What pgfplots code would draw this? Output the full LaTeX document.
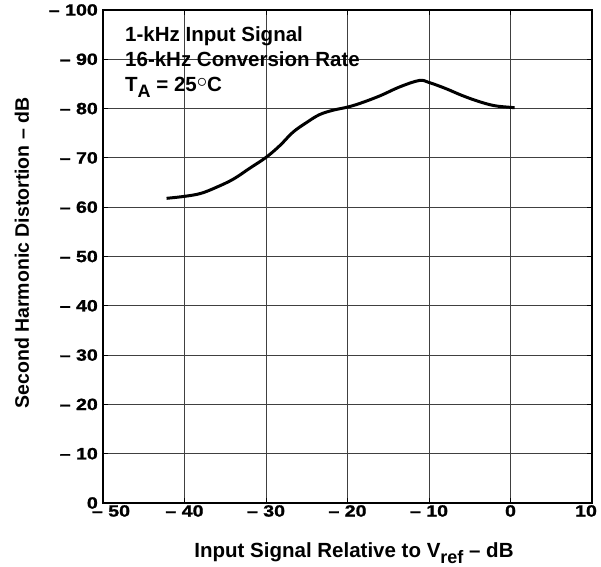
\documentclass[border=0pt]{standalone}
\usepackage{pgfplots}
\pgfplotsset{compat=1.18}
\usepackage{fontspec}
\setmainfont{Liberation Sans}
\newfontfamily\tickfont{Liberation Sans Bold}[FakeStretch=1.2, FakeBold=1.2]
\newcommand{\tickfnt}{\tickfont\fontsize{16.3bp}{16bp}\selectfont}
\pgfplotsset{
  layers/mine/.define layer set={axis background,axis grid,boxlayer,axis ticks,main,axis lines,axis tick labels,axis descriptions,axis foreground}{},
}
\begin{document}
\begin{tikzpicture}
\begin{axis}[
  name=ax,
  set layers=mine,
  scale only axis,
  width=489bp, height=493bp,
  xmin=-50, xmax=10, ymin=0, ymax=100,
  xtick={-50,-40,-30,-20,-10,0,10},
  xticklabels={\hspace*{16bp}– 50,– 40,– 30,– 20,– 10,0,10\hspace*{12bp}},
  ytick={0,10,20,30,40,50,60,70,80,90,100},
  yticklabels={0,– 10,– 20,– 30,– 40,– 50,– 60,– 70,– 80,– 90,– 100},
  grid=major,
  major grid style={black!75, line width=0.8bp},
  axis line style={black, line width=2bp},
  tick align=inside,
  major tick length=5bp,
  tick style={black, line width=1bp},
  every tick label/.append style={font=\tickfnt, inner sep=0pt},
  xticklabel style={anchor=north, yshift=-2bp, font=\tickfnt},
  yticklabel style={anchor=east, xshift=-5bp, font=\tickfnt},
]
\begin{pgfonlayer}{boxlayer}
\fill[white] (axis cs:-50,100) rectangle (axis cs:-13.3,82.1);
\end{pgfonlayer}
\addplot[black, line width=3bp, smooth, tension=0.6] coordinates {
(-42.2,61.8) (-40,62.2) (-38,62.8) (-36,64.1) (-34,65.7) (-32,67.9) (-30,70.1)
(-28.3,72.5) (-26.7,75.2) (-25,77.2) (-23.4,78.8) (-21.7,79.7) (-20,80.3)
(-18.4,81.1) (-16,82.6) (-13.6,84.4) (-11.2,85.7) (-10,85.3) (-8,84.1)
(-6,82.7) (-4,81.5) (-2,80.6) (0,80.25) (0.5,80.2)
};
\node[anchor=base west, inner sep=0pt, font=\bfseries\fontsize{20.5bp}{24bp}\selectfont] at (axis cs:-47.3,93.57) {1-kHz Input Signal};
\node[anchor=base west, inner sep=0pt, font=\bfseries\fontsize{20.5bp}{24bp}\selectfont] at (axis cs:-47.3,88.5) {16-kHz Conversion Rate};
\node[anchor=base west, inner sep=0pt, font=\bfseries\fontsize{20.5bp}{24bp}\selectfont] at (axis cs:-47.3,83.4) {T\raisebox{-6bp}{\fontsize{18bp}{18bp}\selectfont A} = 25\raisebox{4bp}{$\circ$}C};
\end{axis}
\node[rotate=90, anchor=base, inner sep=0pt, font=\bfseries\fontsize{19.5bp}{24bp}\selectfont] at ([xshift=-74bp,yshift=3.5bp]ax.west) {Second Harmonic Distortion – dB};
\node[anchor=base, inner sep=0pt, font=\bfseries\fontsize{20.5bp}{24bp}\selectfont] at ([xshift=6.5bp,yshift=-54bp]ax.south) {Input Signal Relative to V\raisebox{-6bp}{\fontsize{18bp}{18bp}\selectfont ref} – dB};
\pgfresetboundingbox
\path ([shift={(-103bp,-64bp)}]ax.south west) rectangle ([shift={(9bp,10bp)}]ax.north east);
\end{tikzpicture}
\end{document}
